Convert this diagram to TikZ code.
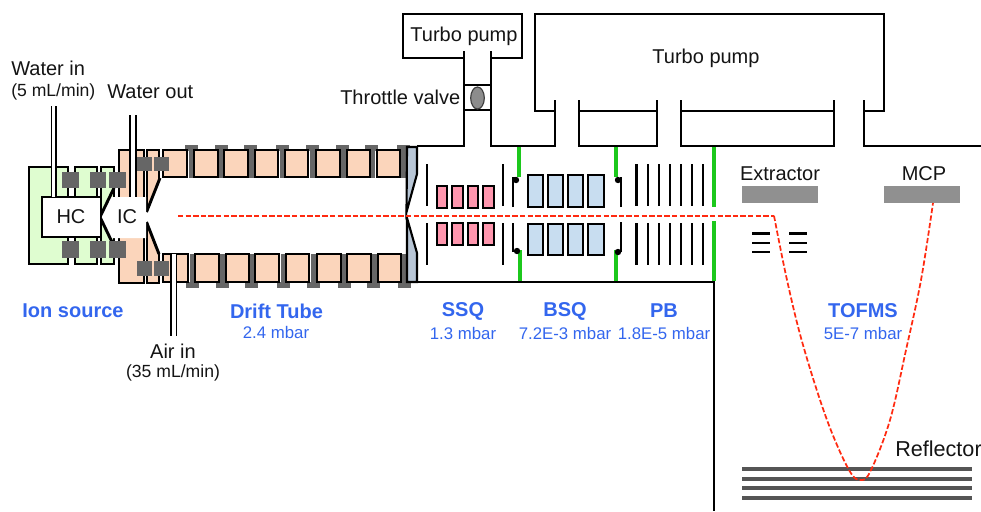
\documentclass[tikz,border=0pt]{standalone}
\usepackage{fontspec}
\setmainfont{Liberation Sans}
\definecolor{srcgreen}{HTML}{DFFDD0}
\definecolor{ringorange}{HTML}{FBD5BB}
\definecolor{capgrey}{HTML}{666666}
\definecolor{platefill}{HTML}{B8C6D6}
\definecolor{ssqpink}{HTML}{FF96AE}
\definecolor{bsqblue}{HTML}{C8DDF0}
\definecolor{gategreen}{HTML}{1CC81C}
\definecolor{labelblue}{HTML}{3366EE}
\definecolor{plategrey}{HTML}{909090}
\definecolor{refgrey}{HTML}{555555}
\definecolor{beamred}{HTML}{FF2A10}
\tikzset{
  wall/.style={line width=2.2pt,black,line cap=butt,line join=miter},
  greenbox/.style={wall,fill=srcgreen},
  orangebox/.style={wall,fill=ringorange},
  pinkbox/.style={wall,fill=ssqpink},
  bluebox/.style={wall,fill=bsqblue},
  gate/.style={line width=2.7pt,gategreen},
  lens/.style={line width=1.9pt,black},
  tube/.style={line width=1.4pt,black},
  txt/.style={inner sep=0pt,font=\fontsize{15}{15}\selectfont,text=black!92},
  small/.style={inner sep=0pt,font=\fontsize{13.2}{14}\selectfont,text=black!92},
  head/.style={inner sep=0pt,font=\fontsize{15}{15}\selectfont\bfseries,text=labelblue},
  sub/.style={inner sep=0pt,font=\fontsize{12.6}{13}\selectfont,text=labelblue},
  beam/.style={line width=1.3pt,beamred,dash pattern=on 4pt off 1.7pt},
}
\begin{document}
\begin{tikzpicture}[x=0.75pt,y=-0.75pt]
\useasboundingbox (0,0) rectangle (981,511);
\clip (0,0) rectangle (981,511);
% ion source green
\draw[greenbox] (29,167) rectangle (68,264);
\draw[greenbox] (75,167) rectangle (97,264);
\draw[greenbox] (101,167) rectangle (114,264);
% orange ion-source blocks
\draw[orangebox] (119,150) rectangle (144,283);
\draw[orangebox] (147,150) rectangle (159,283);
% inner white zones
\fill[white] (160,178) -- (405,178) -- (405,254) -- (160,254) -- (146,222) -- (146,212) -- cycle;
% drift spacers, behind the rings
\foreach \c in {185,215,244,276,306,336,365,397}{
  \fill[capgrey] (\c,145) rectangle +(13,6);
  \fill[capgrey] (\c+3.5,150) rectangle +(6,28);
}
\foreach \c in {186,216,245,277,307,338,367,398}{
  \fill[capgrey] (\c,282) rectangle +(13,6);
  \fill[capgrey] (\c+3.5,254) rectangle +(6,29);
}
% drift rings
\foreach \a/\b in {163/187,194/218,224/248,255/278,285/308,316/340,347/370,377/400}{
  \draw[orangebox] (\a,150) rectangle (\b,177);
}
\foreach \a/\b in {163/188,195/219,226/249,255/279,286/309,317/341,347/371,378/401}{
  \draw[orangebox] (\a,254) rectangle (\b,282);
}
\draw[wall] (146.5,212) -- (160,178);
\draw[wall] (146.5,222) -- (159,254);
% IC
\fill[white] (100,217) -- (109,197) -- (146,197) -- (146,238) -- (110,238) -- cycle;
\draw[wall] (100,217) -- (114,188);
\draw[wall] (100,217) -- (112,242);
% HC
\draw[wall,fill=white] (100,197) -- (42,197) -- (42,237) -- (100,237);
% plate
\draw[line width=1.6pt,black,fill=platefill,line join=miter] (407,147) -- (417,147) -- (417,174) -- (406.5,212) -- cycle;
\draw[line width=1.6pt,black,fill=platefill,line join=miter] (407,218) -- (417,253) -- (417,282) -- (407,282) -- cycle;
% feed tubes
\fill[white] (51.5,106) rectangle (56,197);
\draw[tube] (51.5,106) -- (51.5,197) (56,106) -- (56,197);
\fill[white] (130,115) rectangle (136,197);
\draw[tube] (130,115) -- (130,197) (136,115) -- (136,197);
\fill[white] (171,254) rectangle (176.5,336);
\draw[tube] (171,254) -- (171,336) (176.5,254) -- (176.5,336);
% dark squares
\foreach \x/\w in {62/17,90/16,109/17}{
  \fill[capgrey] (\x,172) rectangle +(\w,16);
  \fill[capgrey] (\x,241) rectangle +(\w,17);
}
\foreach \x/\w in {137/15,154/15}{
  \fill[capgrey] (\x,157) rectangle +(\w,14);
  \fill[capgrey] (\x,261) rectangle +(\w,15);
}
% vacuum walls
\draw[wall] (464,58) -- (403,58) -- (403,14) -- (522,14) -- (522,58) -- (491,58);
\draw[wall] (417,146) -- (464,146) -- (464,51);
\draw[wall] (555,100) -- (555,146) -- (491,146) -- (491,51);
\draw[wall] (464,85) -- (491,85);
\draw[wall] (464,110) -- (491,110);
\draw[line width=0.9pt,draw=black!75,fill=black!45] (477.5,98) ellipse (6.8 and 11);
\draw[wall] (555,111) -- (535,111) -- (535,14) -- (884,14) -- (884,111) -- (864,111);
\draw[wall] (579,100) -- (579,146) -- (657,146) -- (657,100);
\draw[wall] (579,111) -- (657,111);
\draw[wall] (681,100) -- (681,146) -- (834,146) -- (834,100);
\draw[wall] (681,111) -- (834,111);
\draw[wall] (864,100) -- (864,146) -- (981,146);
\draw[wall] (417,282) -- (714,282) -- (714,511);
% green gates
\draw[gate] (519,147) -- (519,177);
\draw[gate] (520,250) -- (520,281);
\draw[gate] (616,147) -- (616,177);
\draw[gate] (616,250) -- (616,281);
\draw[gate] (714,147) -- (714,207);
\draw[gate] (714,221) -- (714,281);
% lenses
\foreach \x in {427,503,636.7,648,659,670,681,692,703}{
  \draw[lens] (\x,164) -- (\x,206);
  \draw[lens] (\x,223) -- (\x,265);
}
% SSQ
\foreach \a/\b in {437/447,452/463,468/478,483/494}{
  \draw[pinkbox] (\a,186) rectangle (\b,208);
  \draw[pinkbox] (\a,223) rectangle (\b,245);
}
% BSQ
\foreach \a/\b in {528/543,548/563,568/583,588/604}{
  \draw[bluebox] (\a,175) rectangle (\b,207);
  \draw[bluebox] (\a,224) rectangle (\b,255);
}
% apertures
\draw[lens] (513,207) -- (513,178) -- (516,178);
\draw[lens] (513,223) -- (513,251) -- (517,251);
\draw[lens] (621,207) -- (621,177);
\draw[lens] (621,222) -- (621,252);
\foreach \x/\y in {516/180,517/251,618/180,618/252}{
  \fill[black] (\x,\y) circle (3.2);
}
% extractor and MCP
\fill[plategrey] (742,186) rectangle (818,203);
\fill[plategrey] (884,186) rectangle (960,203);
\foreach \y in {233.5,243,252}{
  \draw[lens] (752,\y) -- (770,\y);
  \draw[lens] (789,\y) -- (807,\y);
}
% reflector
\foreach \y in {469,479,488,498}{
  \fill[refgrey] (742,\y-2.4) rectangle (972,\y+2.4);
}
% beam
\draw[beam] (178,215.7) -- (774,215.7);
\draw[beam] plot[smooth,tension=0.6] coordinates {(774,215.7) (787,280) (803,345) (827,420) (849,470) (861,480) (871,470) (890,420) (906,350) (921,280) (933,203)};
% labels
\node[txt,anchor=center] (t1) at (464,36) {Turbo pump};
\node[txt,anchor=center] (t2) at (706,58) {Turbo pump};
\node[txt,anchor=west] (t3) at (340,97) {Throttle valve};
\node[txt,anchor=west] (t4) at (11,68.5) {Water in};
\node[small,anchor=west] (t5) at (11,92) {(5 mL/min)};
\node[txt,anchor=west] (t6) at (107,92) {Water out};
\node[txt] (t7) at (71,217) {HC};
\node[txt] (t8) at (127,217) {IC};
\node[txt] (t9) at (780,174) {Extractor};
\node[txt] (t10) at (924,174) {MCP};
\node[txt,anchor=west,font=\fontsize{16.2}{16}\selectfont] (t11) at (895,449) {Reflector};
\node[txt] (t12) at (173,351) {Air in};
\node[small] (t13) at (173,373) {(35 mL/min)};
\node[head] (h1) at (73,311) {Ion source};
\node[head] (h2) at (276.5,311) {Drift Tube};
\node[sub] (s2) at (276,332) {2.4 mbar};
\node[head] (h3) at (463,311) {SSQ};
\node[sub] (s3) at (463,333) {1.3 mbar};
\node[head] (h4) at (565,311) {BSQ};
\node[sub] (s4) at (565,333) {7.2E-3 mbar};
\node[head] (h5) at (664,311) {PB};
\node[sub] (s5) at (664,333) {1.8E-5 mbar};
\node[head] (h6) at (863,311) {TOFMS};
\node[sub] (s6) at (863,333) {5E-7 mbar};
\end{tikzpicture}
\end{document}
